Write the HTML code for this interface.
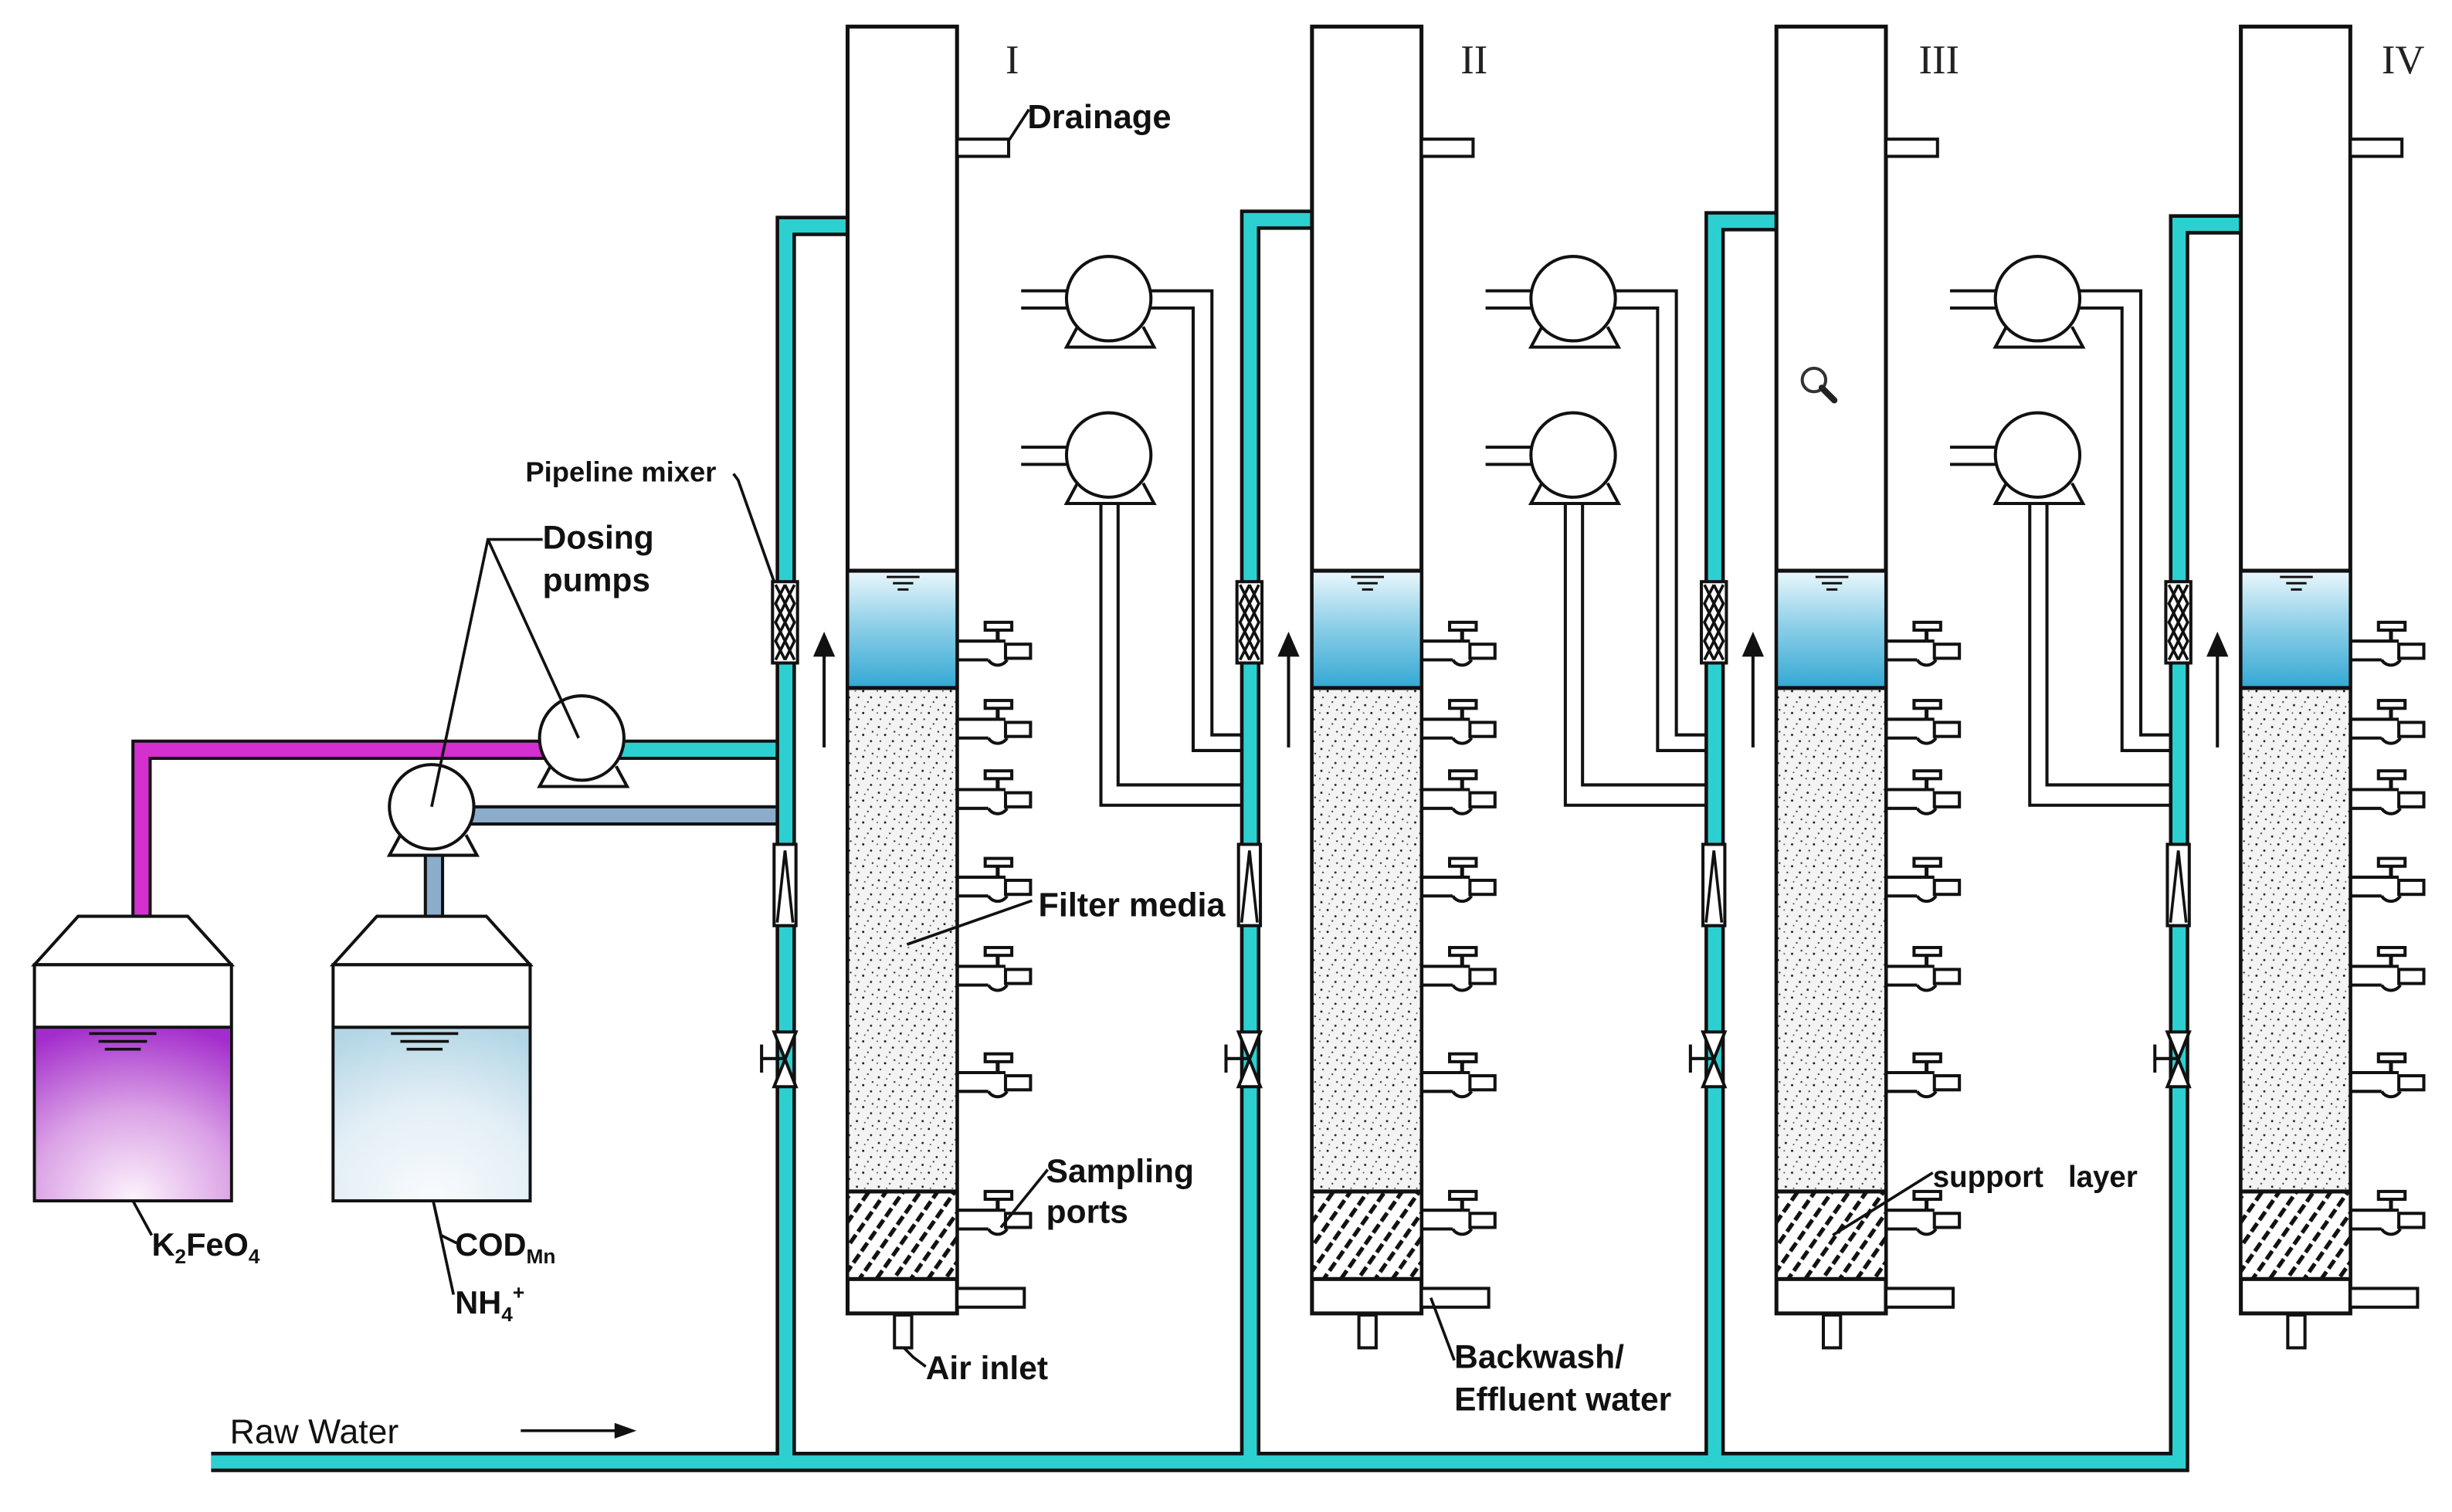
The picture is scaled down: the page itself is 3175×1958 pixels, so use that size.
<!DOCTYPE html>
<html><head><meta charset="utf-8"><style>
html,body{margin:0;padding:0;background:#fff}
svg{display:block}
.b{font-family:"Liberation Sans",sans-serif;font-weight:bold;fill:#111}
</style></head><body>
<svg width="3175" height="1958" viewBox="0 0 1568 967" xmlns="http://www.w3.org/2000/svg">
<defs>
<linearGradient id="wat" x1="0" y1="0" x2="0" y2="1">
<stop offset="0" stop-color="#e8f6fb"/><stop offset="0.45" stop-color="#8fd0e8"/><stop offset="1" stop-color="#34a8d4"/></linearGradient>
<radialGradient id="pur" cx="0.5" cy="1" r="1.05">
<stop offset="0" stop-color="#fdf3fc"/><stop offset="0.5" stop-color="#dba3e6"/><stop offset="1" stop-color="#a32ccc"/></radialGradient>
<radialGradient id="lb" cx="0.5" cy="1" r="1.05">
<stop offset="0" stop-color="#f8fbfd"/><stop offset="0.55" stop-color="#e2eef5"/><stop offset="1" stop-color="#b3d6e6"/></radialGradient>
<pattern id="sand" width="14" height="14" patternUnits="userSpaceOnUse">
<rect width="14" height="14" fill="#f3f3f3"/>
<circle cx="2" cy="3" r="0.7" fill="#222"/><circle cx="9" cy="1" r="0.6" fill="#444"/><circle cx="6" cy="8" r="0.7" fill="#111"/>
<circle cx="12" cy="6" r="0.6" fill="#333"/><circle cx="3" cy="12" r="0.6" fill="#444"/><circle cx="11" cy="12" r="0.7" fill="#222"/>
<circle cx="7" cy="4" r="0.5" fill="#555"/><circle cx="1" cy="8" r="0.5" fill="#555"/>
</pattern>
<pattern id="hatch" width="9" height="9" patternUnits="userSpaceOnUse" patternTransform="rotate(35)">
<rect width="9" height="9" fill="#fff"/><rect x="0" y="0" width="2.6" height="6.5" fill="#111"/></pattern>
<g id="tap">
<path d="M0,-6 H26 M0,6 H20" stroke="#111" stroke-width="2" fill="none"/>
<rect x="31" y="-4" width="16" height="9" fill="#fff" stroke="#111" stroke-width="2"/>
<path d="M20,6 A7 7 0 0 0 32,6 M26,-6 H31" stroke="#111" stroke-width="2" fill="none"/>
<path d="M26,-6 V-13" stroke="#111" stroke-width="2.5"/>
<rect x="18" y="-18" width="17" height="5" fill="#fff" stroke="#111" stroke-width="2"/>
</g>
<g id="col">
<rect x="542" y="17" width="70" height="823" fill="#fff" stroke="#111" stroke-width="2.5"/>
<rect x="543" y="366" width="68" height="74" fill="url(#wat)"/>
<rect x="543" y="441" width="68" height="321" fill="url(#sand)"/>
<rect x="543" y="763" width="68" height="55" fill="url(#hatch)"/>
<path d="M542,365 H612 M542,440 H612 M542,762 H612 M542,818 H612" stroke="#111" stroke-width="2.5"/>
<path d="M567,369 H588 M571,373 H584 M574,377 H581" stroke="#111" stroke-width="1.5"/>
<rect x="612" y="89" width="33" height="11" fill="#fff" stroke="#111" stroke-width="2"/>
<rect x="612" y="824" width="43" height="12" fill="#fff" stroke="#111" stroke-width="2"/>
<rect x="572" y="841" width="11" height="21" fill="#fff" stroke="#111" stroke-width="2"/>
<use href="#tap" x="612" y="416"/><use href="#tap" x="612" y="466"/><use href="#tap" x="612" y="511"/>
<use href="#tap" x="612" y="567"/><use href="#tap" x="612" y="624"/><use href="#tap" x="612" y="692"/>
<use href="#tap" x="612" y="780"/>
</g>
<g id="riserfx">
<rect x="494" y="372" width="16" height="52" fill="#fff" stroke="#111" stroke-width="2"/>
<path d="M496,374 L508,398 L496,422 M508,374 L496,398 L508,422 M502,374 L508,386 L502,398 L496,410 L502,422 M502,374 L496,386 L502,398 L508,410 L502,422" stroke="#111" stroke-width="1.8" fill="none"/>
<rect x="495" y="540" width="14" height="52" fill="#fff" stroke="#111" stroke-width="2"/>
<path d="M497,590 L502,544 L507,590" stroke="#111" stroke-width="1.8" fill="none"/>
<path d="M495,660 H509 L495,695 H509 Z" fill="#fff" stroke="#111" stroke-width="2"/>
<path d="M487,677 H502 M487,668 V686" stroke="#111" stroke-width="2"/>
<path d="M527,478 V416" stroke="#111" stroke-width="2"/><path d="M520,420 L527,404 L534,420 Z" fill="#111"/>
</g>
<g id="pump">
<path d="M-20,18 L-27,31 H29 L22,18" fill="#fff" stroke="#111" stroke-width="2"/>
<ellipse cx="0" cy="0" rx="27" ry="27" fill="#fff" stroke="#111" stroke-width="2"/>
</g>
<g id="pset">
<path d="M653,186 H682 M653,197 H682 M736,186 H775 V470 H794 M736,197 H763 V480 H794" stroke="#111" stroke-width="2" fill="none"/>
<path d="M653,286 H682 M653,297 H682 M704,318 V515 H794 M715,318 V502 H794" stroke="#111" stroke-width="2" fill="none"/>
<use href="#pump" x="709" y="191"/><use href="#pump" x="709" y="291"/>
</g>
</defs>

<!-- dosing pipes -->
<path d="M90.5,586 V479.5 H350" stroke="#111" stroke-width="13" fill="none"/>
<path d="M90.5,586 V479.5 H350" stroke="#d42fcf" stroke-width="9" fill="none"/>
<path d="M395,479.5 H497" stroke="#111" stroke-width="13" fill="none"/>
<path d="M395,479.5 H497" stroke="#2dd0d0" stroke-width="9" fill="none"/>
<path d="M300,521.5 H497 M277.5,586 V545" stroke="#111" stroke-width="13" fill="none"/>
<path d="M300,521.5 H497 M277.5,586 V545" stroke="#8caccc" stroke-width="9" fill="none"/>

<!-- cyan main pipes -->
<g fill="none" stroke-linejoin="miter">
<path d="M135,935 H1393.5 V143.5 H1433 M502.5,935 V144.5 H542 M799.5,935 V140.5 H839 M1096.5,935 V141.5 H1136" stroke="#111" stroke-width="13"/>
<path d="M135,935 H1393.5 V143.5 H1433 M502.5,935 V144.5 H542 M799.5,935 V140.5 H839 M1096.5,935 V141.5 H1136" stroke="#2dd0d0" stroke-width="8.5"/>
</g>

<use href="#riserfx"/>
<use href="#riserfx" x="297"/>
<use href="#riserfx" x="594"/>
<use href="#riserfx" x="891"/>

<use href="#col"/>
<use href="#col" x="297"/>
<use href="#col" x="594"/>
<use href="#col" x="891"/>

<use href="#pset"/>
<use href="#pset" x="297"/>
<use href="#pset" x="594"/>

<!-- dosing pumps -->
<use href="#pump" x="372" y="472"/>
<use href="#pump" x="276" y="516"/>

<!-- tanks -->
<path d="M22,617 L50,586 H120 L148,617 Z" fill="#fff" stroke="#111" stroke-width="2"/>
<rect x="22" y="617" width="126" height="151" fill="#fff" stroke="#111" stroke-width="2"/>
<rect x="23" y="658" width="124" height="109" fill="url(#pur)"/>
<path d="M22,657 H148" stroke="#111" stroke-width="2"/>
<path d="M57,661 H100 M63,666 H94 M67,671 H90" stroke="#111" stroke-width="1.8"/>
<path d="M213,617 L241,586 H311 L339,617 Z" fill="#fff" stroke="#111" stroke-width="2"/>
<rect x="213" y="617" width="126" height="151" fill="#fff" stroke="#111" stroke-width="2"/>
<rect x="214" y="658" width="124" height="109" fill="url(#lb)"/>
<path d="M213,657 H339" stroke="#111" stroke-width="2"/>
<path d="M250,661 H293 M256,666 H287 M260,671 H283" stroke="#111" stroke-width="1.8"/>

<!-- magnifier -->
<circle cx="1160" cy="243" r="7.5" fill="none" stroke="#333" stroke-width="2"/>
<path d="M1165,248 L1173,256" stroke="#222" stroke-width="4" stroke-linecap="round"/>

<!-- leaders -->
<g stroke="#111" stroke-width="1.8" fill="none">
<path d="M469,303 L472,307 L495,372"/>
<path d="M347,345 H312 L276,516 M312,345 L370,472"/>
<path d="M85,768 L97,790"/>
<path d="M277,768 L282,790 L292,795 M277,768 L290,828"/>
<path d="M645,95 V90 L658,70"/>
<path d="M580,604 L660,576"/>
<path d="M640,785 L670,748"/>
<path d="M578,862 L584,868 L592,874"/>
<path d="M915,830 L930,870"/>
<path d="M1172,790 L1236,750"/>
<path d="M333,915 H400"/>
</g>
<path d="M393,910 L407,915 L393,920 Z" fill="#111"/>

<!-- labels -->
<g font-family="Liberation Serif,serif" font-size="26" fill="#222">
<text x="643" y="47">I</text><text x="934" y="47">II</text><text x="1227" y="47">III</text><text x="1523" y="47">IV</text>
</g>
<text class="b" x="336" y="308" font-size="18">Pipeline mixer</text>
<text class="b" x="347" y="351" font-size="21">Dosing</text>
<text class="b" x="347" y="378" font-size="21">pumps</text>
<text class="b" x="97" y="803" font-size="20.5">K<tspan font-size="13" dy="5">2</tspan><tspan dy="-5">FeO</tspan><tspan font-size="13" dy="5">4</tspan></text>
<text class="b" x="291" y="803" font-size="20.5">COD<tspan font-size="13" dy="5">Mn</tspan></text>
<text class="b" x="291" y="840" font-size="20.5">NH<tspan font-size="13" dy="5">4</tspan><tspan font-size="13" dy="-14">+</tspan></text>
<text class="b" x="657" y="82" font-size="21.5">Drainage</text>
<text class="b" x="664" y="586" font-size="21.3">Filter media</text>
<text class="b" x="669" y="756" font-size="21">Sampling</text>
<text class="b" x="669" y="782" font-size="21">ports</text>
<text class="b" x="592" y="882" font-size="21">Air inlet</text>
<text class="b" x="930" y="875" font-size="21">Backwash/</text>
<text class="b" x="930" y="902" font-size="21">Effluent water</text>
<text class="b" x="1236" y="759" font-size="19">support&#160;&#160;&#160;layer</text>
<text x="147" y="923" font-family="Liberation Sans,sans-serif" font-size="22" fill="#111">Raw Water</text>
</svg>
</body></html>
